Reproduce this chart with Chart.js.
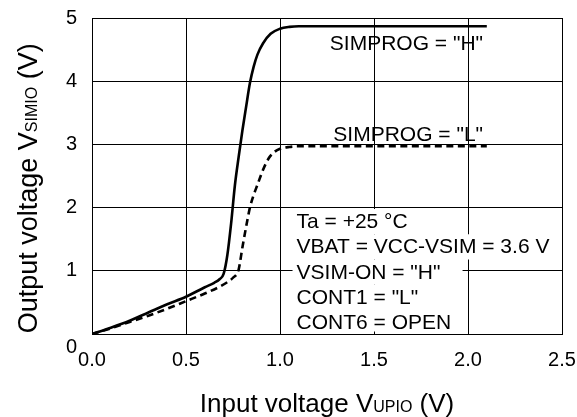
<!DOCTYPE html>
<html lang="en">
<head>
<meta charset="UTF-8">
<title>Output voltage vs input voltage</title>
<script src="https://cdn.jsdelivr.net/npm/chart.js"></script>
<style>
    body { margin: 0; background: #fff; }
    canvas { display: block; }
</style>
</head>
<body>
<canvas id="chart" width="577" height="417"></canvas>
<script>
    // SIMPROG = "H" curve (solid)
    const hInput  = [0, 0.1, 0.2, 0.3, 0.4, 0.5, 0.6, 0.65, 0.68, 0.70, 0.72, 0.74, 0.76, 0.78, 0.80, 0.82, 0.84, 0.86, 0.88, 0.91, 0.95, 1.0, 1.05, 1.1, 1.2, 1.5, 2.1];
    const hOutput = [0, 0.10, 0.21, 0.34, 0.47, 0.59, 0.74, 0.81, 0.87, 0.95, 1.25, 1.75, 2.35, 2.8, 3.22, 3.6, 3.97, 4.23, 4.42, 4.6, 4.75, 4.83, 4.86, 4.87, 4.87, 4.87, 4.87];

    // SIMPROG = "L" curve (dashed)
    const lInput  = [0, 0.1, 0.2, 0.3, 0.4, 0.5, 0.6, 0.68, 0.72, 0.75, 0.78, 0.80, 0.82, 0.84, 0.86, 0.88, 0.91, 0.94, 0.97, 1.0, 1.05, 1.1, 1.5, 2.1];
    const lOutput = [0, 0.09, 0.19, 0.29, 0.40, 0.52, 0.64, 0.75, 0.82, 0.89, 1.02, 1.37, 1.70, 2.0, 2.2, 2.36, 2.6, 2.78, 2.88, 2.93, 2.96, 2.97, 2.97, 2.97];

    const xTicks = [0, 0.5, 1, 1.5, 2, 2.5];
    const xTickLabels = ['0.0', '0.5', '1.0', '1.5', '2.0', '2.5'];
    const yTicks = [0, 1, 2, 3, 4, 5];
    const yTickLabels = ['0', '1', '2', '3', '4', '5'];

    const conditions = ['Ta = +25 °C', 'VBAT = VCC-VSIM = 3.6 V', 'VSIM-ON = "H"', 'CONT1 = "L"', 'CONT6 = OPEN'];

    const FONT = '"Liberation Sans", Arial, sans-serif';

    function toPoints(xs, ys) {
        return xs.map((v, i) => ({ x: v, y: ys[i] }));
    }

    // draw text pieces one after another (main text + small subscript)
    function drawParts(ctx, parts, x, y) {
        parts.forEach(([text, size]) => {
            ctx.font = size + 'px ' + FONT;
            ctx.fillText(text, x, y);
            x += ctx.measureText(text).width;
        });
    }

    function partsWidth(ctx, parts) {
        let w = 0;
        parts.forEach(([text, size]) => {
            ctx.font = size + 'px ' + FONT;
            w += ctx.measureText(text).width;
        });
        return w;
    }

    // keep the plot box fixed: no extra room for overhanging tick labels
    function noPadding(s) {
        s.paddingLeft = 0;
        s.paddingRight = 0;
        s.paddingTop = 0;
        s.paddingBottom = 0;
    }

    const textPlugin = {
        id: 'texts',
        afterDraw(chart) {
            const ctx = chart.ctx;
            const xs = chart.scales.x, ys = chart.scales.y;
            const area = chart.chartArea;
            ctx.save();
            ctx.fillStyle = '#000';
            ctx.textBaseline = 'alphabetic';

            // curve labels
            ctx.font = '21px ' + FONT;
            ctx.textAlign = 'right';
            ctx.fillText('SIMPROG = "H"', xs.getPixelForValue(2.08), ys.getPixelForValue(4.5));
            ctx.fillText('SIMPROG = "L"', xs.getPixelForValue(2.08), ys.getPixelForValue(3.05));

            // test conditions, each line on a white backing
            ctx.textAlign = 'left';
            const left = xs.getPixelForValue(1.088);
            let base = ys.getPixelForValue(1.677);
            conditions.forEach(line => {
                const w = Math.max(ctx.measureText(line).width, 166);
                const top = base - 19;
                const bottom = Math.min(base + 6.25, area.bottom - 2.5);
                ctx.fillStyle = '#fff';
                ctx.fillRect(left - 4, top, w + 4, bottom - top);
                ctx.fillStyle = '#000';
                ctx.fillText(line, left, base);
                base += 25.25;
            });

            // x axis title
            const xParts = [['Input voltage V', 26], ['UPIO', 16], [' (V)', 26]];
            const xw = partsWidth(ctx, xParts);
            drawParts(ctx, xParts, (area.left + area.right) / 2 - xw / 2, 411.7);

            // y axis title, rotated
            ctx.translate(36.7, 333.3);
            ctx.rotate(-Math.PI / 2);
            drawParts(ctx, [['Output voltage V', 27], ['SIMIO', 16], [' (V)', 27]], 0, 0);
            ctx.restore();
        }
    };

    new Chart(document.getElementById('chart'), {
        type: 'line',
        data: {
            datasets: [{
                data: toPoints(hInput, hOutput),
                borderColor: '#000',
                borderWidth: 2.6,
                pointRadius: 0,
                cubicInterpolationMode: 'monotone'
            }, {
                data: toPoints(lInput, lOutput),
                borderColor: '#000',
                borderWidth: 2.6,
                borderDash: [7, 4.5],
                pointRadius: 0,
                cubicInterpolationMode: 'monotone'
            }]
        },
        options: {
            responsive: false,
            animation: false,
            layout: { padding: { top: 18, right: 15, left: 0, bottom: 0 } },
            plugins: { legend: { display: false }, tooltip: { enabled: false } },
            scales: {
                x: {
                    type: 'linear',
                    min: 0,
                    max: 2.5,
                    afterBuildTicks: s => { s.ticks = xTicks.map(v => ({ value: v })); },
                    afterFit: s => { s.height = 83; noPadding(s); },
                    grid: { color: '#000', drawTicks: false },
                    border: { color: '#000' },
                    ticks: {
                        color: '#000',
                        padding: 14,
                        maxRotation: 0,
                        font: { family: FONT, size: 20, lineHeight: 1.2 },
                        callback: (v, i) => xTickLabels[i]
                    }
                },
                y: {
                    min: 0,
                    max: 5,
                    afterBuildTicks: s => { s.ticks = yTicks.map(v => ({ value: v })); },
                    afterFit: s => { s.width = 92; noPadding(s); },
                    grid: { color: '#000', drawTicks: false },
                    border: { color: '#000' },
                    ticks: {
                        color: '#000',
                        padding: 15,
                        font: { family: FONT, size: 20, lineHeight: 1.33 },
                        // the "0" sits a bit lower so it clears "0.0"
                        callback: (v, i) => i === 0 ? ['', yTickLabels[i]] : yTickLabels[i]
                    }
                }
            }
        },
        plugins: [textPlugin]
    });
</script>
</body>
</html>
